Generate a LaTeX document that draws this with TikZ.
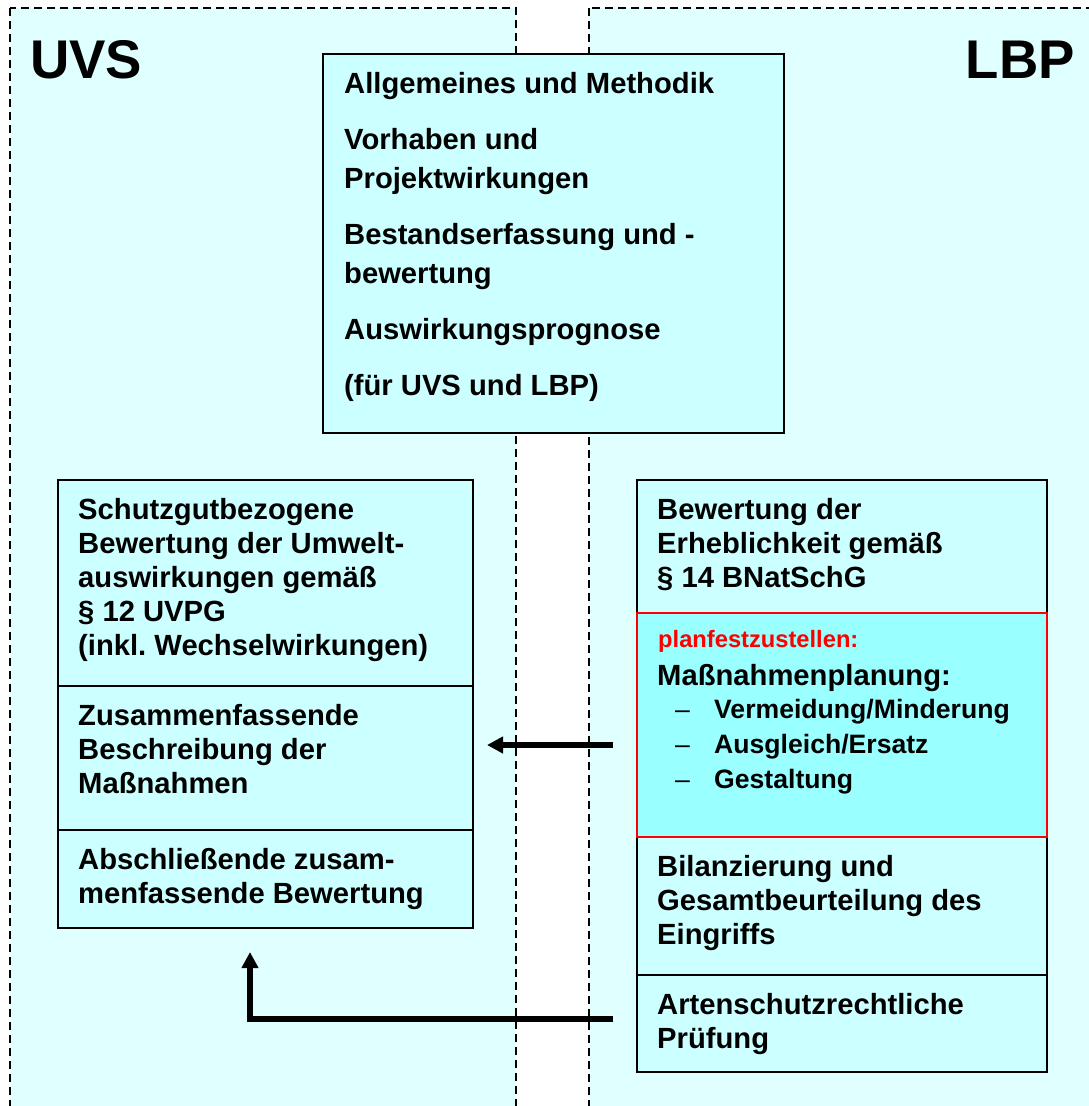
\documentclass[tikz,border=0pt]{standalone}
\usepackage{fontspec}
\setmainfont{Liberation Sans}
\usetikzlibrary{positioning,arrows.meta}
\definecolor{zonefill}{RGB}{224,255,255}
\definecolor{boxfill}{RGB}{204,255,255}
\definecolor{planfill}{RGB}{153,255,255}
\newcommand{\lbpdash}{\makebox[57pt][l]{\hspace{18pt}\mdseries--}}

\begin{document}
\begin{tikzpicture}[x=1pt,y=-1pt,
	zone/.style={fill=zonefill, draw=black, line width=1.5pt, dash pattern=on 8pt off 5pt},
	sect/.style={draw=black, line width=2pt, fill=boxfill, anchor=north west, inner sep=0pt, outer sep=0pt},
	txt/.style={inner sep=0pt, align=left, font={\fontsize{29.2}{34}\selectfont\bfseries}},
	bigarrow/.style={line width=5.5pt, -{Triangle[length=16pt,width=16pt]}}]
	\useasboundingbox (0,0) rectangle (1089,1106);
	\fill[white] (0,0) rectangle (1089,1106);
	\draw[zone] (10,8) rectangle (516,1130);
	\draw[zone] (589,8) rectangle (1130,1130);
	\node[anchor=base west, inner sep=0pt, font={\fontsize{54.5}{60}\selectfont\bfseries}] (uvs) at (30,78) {UVS};
	\node[anchor=base east, inner sep=0pt, font={\fontsize{54.5}{60}\selectfont\bfseries}] (lbp) at (1075,78) {LBP};

	\node[sect, minimum width=461pt, minimum height=379pt] (method) at (323,54) {};
	\node[txt, font={\fontsize{29.2}{39}\selectfont\bfseries}, below right=11.7pt and 21pt of method.north west] (methodtext)
		{\strut Allgemeines und Methodik\\[17pt]Vorhaben und\\Projektwirkungen\\[17pt]Bestandserfassung und -\\bewertung\\[17pt]Auswirkungsprognose\\[17pt](für UVS und LBP)};

	\node[sect, minimum width=415pt, minimum height=206pt] (lefttop) at (58,480) {};
	\node[sect, minimum width=415pt, minimum height=144pt] (leftmid) at (58,686) {};
	\node[sect, minimum width=415pt, minimum height=98pt] (leftlow) at (58,830) {};
	\node[txt, below right=15.5pt and 20pt of lefttop.north west] (lefttoptext)
		{\strut Schutzgutbezogene\\Bewertung der Umwelt-\\auswirkungen gemäß\\§ 12 UVPG\\(inkl.\ Wechselwirkungen)};
	\node[txt, below right=15.5pt and 20pt of leftmid.north west] (leftmidtext)
		{\strut Zusammenfassende\\Beschreibung der\\Maßnahmen};
	\node[txt, below right=15.5pt and 20pt of leftlow.north west] (leftlowtext)
		{\strut Abschließende zusam-\\menfassende Bewertung};

	\node[sect, minimum width=410pt, minimum height=133pt] (erheb) at (637,480) {};
	\node[sect, minimum width=410pt, minimum height=138pt] (bilanz) at (637,837) {};
	\node[sect, minimum width=410pt, minimum height=97pt] (artbox) at (637,975) {};
	\node[sect, draw=red, fill=planfill, minimum width=410pt, minimum height=224pt] (redbox) at (637,613) {};
	\node[txt, below right=15.5pt and 20pt of erheb.north west] (erhebtext)
		{\strut Bewertung der\\Erheblichkeit gemäß\\§ 14 BNatSchG};
	\node[anchor=base west, inner sep=0pt, text=red, font={\fontsize{23.7}{28}\selectfont\bfseries}] (planlabel)
		at ([shift={(21pt,-34pt)}]redbox.north west) {planfestzustellen:};
	\node[anchor=base west, inner sep=0pt, font={\fontsize{29.2}{34}\selectfont\bfseries}] (planhead)
		at ([shift={(20pt,-72pt)}]redbox.north west) {Maßnahmenplanung:};
	\node[txt, font={\fontsize{26.6}{35}\selectfont\bfseries}, below right=80.5pt and 20pt of redbox.north west] (planlist)
		{\strut\lbpdash Vermeidung/Minderung\\\lbpdash Ausgleich/Ersatz\\\lbpdash Gestaltung};
	\node[txt, below right=15.5pt and 20pt of bilanz.north west] (bilanztext)
		{\strut Bilanzierung und\\Gesamtbeurteilung des\\Eingriffs};
	\node[txt, below right=15.5pt and 20pt of artbox.north west] (arttext)
		{\strut Artenschutzrechtliche\\Prüfung};

	\draw[bigarrow, shorten <=24pt, shorten >=14pt] ([yshift=-20pt]redbox.west) -- ([yshift=13pt]leftmid.east);
	\draw[bigarrow, shorten <=24pt, shorten >=24pt] ([yshift=4.5pt]artbox.west) -| ([xshift=-15.5pt]leftlow.south);
\end{tikzpicture}
\end{document}
